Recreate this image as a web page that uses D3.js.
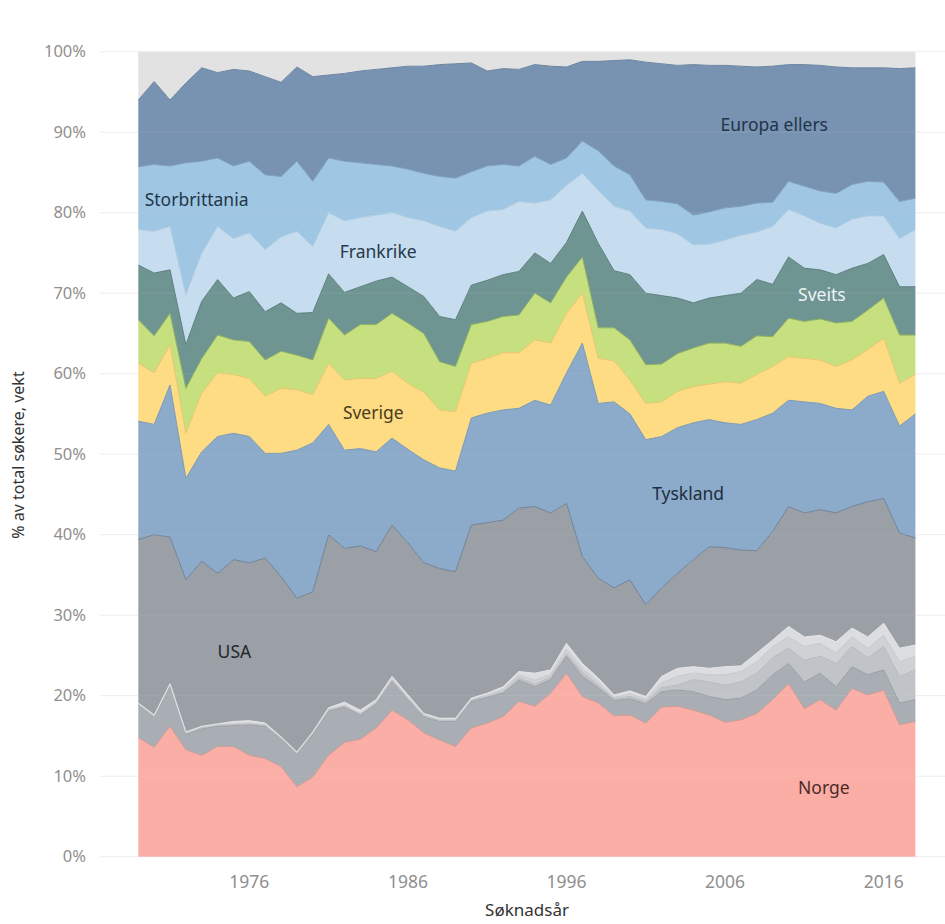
<!DOCTYPE html>
<html><head><meta charset="utf-8">
<script src="https://cdn.jsdelivr.net/npm/d3@7"></script>
<style>body{margin:0;background:#fff}svg{display:block}text{font-family:"Noto Sans","Open Sans",sans-serif}</style>
</head><body><svg id="c" width="945" height="924"></svg>
<script>
const years = [1969,1970,1971,1972,1973,1974,1975,1976,1977,1978,1979,1980,1981,1982,1983,1984,1985,1986,1987,1988,1989,1990,1991,1992,1993,1994,1995,1996,1997,1998,1999,2000,2001,2002,2003,2004,2005,2006,2007,2008,2009,2010,2011,2012,2013,2014,2015,2016,2017,2018];
const norge = [14.8,13.6,16.2,13.3,12.6,13.7,13.7,12.6,12.2,11.2, 8.7,9.9,12.6,14.2,14.6,16.0,18.2,17.0,15.4,14.5, 13.7,16.0,16.6,17.4,19.3,18.7,20.3,22.8,19.9,19.1, 17.5,17.6,16.6,18.6,18.7,18.2,17.6,16.7,17.0,17.8, 19.5,21.5,18.4,19.5,18.2,20.9,20.1,20.7,16.4,16.8];
const japan = [4.0,3.7,5.0,1.9,3.3,2.5,2.6,3.8,4.0,3.4, 4.0,5.3,5.5,4.4,3.0,3.0,3.6,2.5,2.0,2.3, 3.1,3.3,3.2,2.9,2.6,2.4,1.7,2.1,2.5,1.9, 1.9,2.0,2.4,1.9,2.0,2.3,2.3,2.8,2.7,2.9, 3.1,2.5,3.3,3.3,2.9,2.7,2.5,2.5,2.7,2.7];
const kina = [0.1,0.1,0.1,0.1,0.1,0.1,0.1,0.1,0.1,0.1, 0.1,0.1,0.1,0.1,0.1,0.1,0.1,0.1,0.1,0.1, 0.1,0.1,0.1,0.2,0.3,0.3,0.3,0.3,0.5,0.3, 0.2,0.3,0.3,0.5,0.6,1.5,1.8,1.8,2.0,2.1, 2.1,1.9,2.7,2.1,2.9,2.5,2.1,2.9,3.3,3.7];
const korea = [0.1,0.1,0.1,0.1,0.1,0.1,0.1,0.1,0.1,0.1, 0.1,0.1,0.1,0.1,0.1,0.1,0.2,0.2,0.1,0.1, 0.1,0.1,0.2,0.3,0.4,0.5,0.4,0.6,0.5,0.4, 0.2,0.3,0.3,0.6,1.1,0.8,0.9,1.3,1.3,1.4, 1.4,1.4,1.7,1.6,1.3,1.2,1.2,1.4,1.8,1.7];
const asiaEllers = [0.1,0.1,0.1,0.1,0.1,0.1,0.3,0.3,0.2,0.1, 0.1,0.1,0.2,0.4,0.4,0.3,0.3,0.3,0.2,0.2, 0.2,0.2,0.2,0.3,0.4,0.9,0.5,0.7,0.6,0.5, 0.3,0.4,0.3,0.8,1.0,0.8,0.8,1.0,0.7,1.1, 0.8,1.3,1.2,1.0,1.4,1.1,1.4,1.5,1.7,1.4];
const usa = [20.3,22.4,18.2,18.9,20.5,18.7,20.1,19.6,20.5,19.9, 19.1,17.4,21.5,19.1,20.4,18.4,18.8,18.9,18.7,18.6, 18.2,21.5,21.2,20.7,20.3,20.7,19.5,17.4,13.3,12.4, 13.3,13.8,11.4,11.0,11.8,13.3,15.1,14.8,14.4,12.7, 13.5,14.9,15.4,15.6,16.0,15.1,16.8,15.5,14.3,13.3];
const tyskland = [14.7,13.7,18.9,12.6,13.6,17.0,15.7,15.7,13.0,15.3, 18.4,18.5,13.7,12.2,12.1,12.4,10.8,11.6,12.8,12.5, 12.5,13.3,13.6,13.7,12.4,13.2,13.4,16.2,26.5,21.7, 23.1,20.6,20.5,18.8,18.1,17.0,15.8,15.5,15.6,16.3, 14.7,13.2,13.8,13.2,13.0,12.0,13.1,13.3,13.3,15.4];
const sverige = [7.2,6.4,5.0,5.6,7.3,7.9,7.3,7.2,7.1,8.1, 7.5,6.0,7.6,8.7,8.7,9.1,8.3,8.2,8.4,7.2, 7.4,6.8,6.8,7.1,6.9,7.5,7.7,7.4,6.2,5.6, 5.1,4.2,4.5,4.3,4.5,4.5,4.4,5.1,5.1,5.6, 5.8,5.4,5.4,5.4,5.2,6.2,5.8,6.6,5.3,4.9];
const danmark = [5.4,4.6,3.9,5.6,4.3,4.7,4.3,4.6,4.5,4.6, 4.3,4.3,5.6,5.6,6.7,6.7,7.2,7.5,7.3,6.0, 5.6,4.8,4.6,4.5,4.7,5.8,5.0,4.5,4.5,3.8, 4.1,5.0,4.8,4.7,4.7,4.8,5.1,4.8,4.6,4.8, 3.7,4.8,4.6,5.1,5.4,4.8,4.9,5.0,6.0,4.9];
const sveits = [6.8,7.8,5.4,5.4,7.1,6.9,5.2,6.2,6.0,6.0, 5.2,5.9,5.5,5.3,4.7,5.4,4.5,4.5,4.6,5.6, 5.8,4.9,5.1,5.2,5.4,5.0,4.9,4.3,5.7,10.5, 7.1,8.1,8.9,8.5,6.9,5.6,5.6,5.9,6.6,7.0, 6.5,7.6,6.6,6.1,6.0,6.6,5.8,5.4,6.0,6.0];
const frankrike = [4.4,5.2,5.4,6.2,6.0,6.6,7.4,7.3,7.7,8.2, 10.2,8.2,7.6,8.9,8.6,8.2,8.0,8.6,9.4,11.2, 11.0,8.4,8.6,8.1,8.7,6.2,7.9,7.1,4.7,6.6, 8.0,7.9,8.1,8.2,8.0,7.2,6.7,6.9,7.2,5.9, 7.2,5.9,6.5,5.8,5.8,6.1,5.9,4.8,6.0,7.1];
const storbrittania = [7.8,8.3,7.5,16.4,11.4,8.5,9.0,8.9,9.3,7.5, 8.7,8.1,6.8,7.4,6.8,6.3,5.8,6.0,5.9,6.2, 6.6,5.7,5.6,5.6,4.4,5.8,4.4,3.4,4.0,4.9, 5.0,4.5,3.5,3.5,3.7,3.7,4.0,4.0,3.6,3.6, 3.0,3.5,3.7,4.0,4.3,4.3,4.3,4.2,4.6,3.9];
const europaEllers = [8.3,10.3,8.2,9.9,11.6,10.6,12.0,11.2,12.2,11.7, 11.7,13.0,10.3,10.9,11.4,11.8,12.2,12.8,13.3,13.9, 14.2,13.5,11.8,11.9,12.0,11.4,12.2,11.3,9.9,11.1, 13.1,14.3,17.1,17.1,17.2,18.7,18.2,17.7,17.4,16.9, 16.9,14.5,15.1,15.6,15.7,14.5,14.1,14.2,16.5,16.2];
const ovrige = [6.0,3.7,6.0,3.9,2.0,2.6,2.2,2.4,3.1,3.8, 1.9,3.1,2.9,2.7,2.4,2.2,2.0,1.8,1.8,1.6, 1.5,1.4,2.4,2.1,2.2,1.6,1.8,1.9,1.2,1.2, 1.1,1.0,1.3,1.5,1.7,1.6,1.7,1.7,1.8,1.9, 1.8,1.6,1.6,1.7,1.9,2.0,2.0,2.0,2.1,2.0];

const seriesNames = ["Norge","Japan","Kina","Sør-Korea","Asia ellers","USA","Tyskland","Sverige","Danmark","Sveits","Frankrike","Storbrittania","Europa ellers","Øvrige"];
const seriesValues = [norge,japan,kina,korea,asiaEllers,usa,tyskland,sverige,danmark,sveits,frankrike,storbrittania,europaEllers,ovrige];
const colors = ["#faaea5","#a9aeb4","#c0c3c7","#cfd1d4","#dcdde0","#9b9fa6","#8caac9","#fddc84","#c7e07f","#6f9593","#c5ddef","#9fc6e3","#7893b1","#e2e2e2"];
const edgeColors = ["#cf9a94","#9a9fa6","#b6b9bd","#c6c8cb","#e4e5e7","#6f8398","#7a98b8","#e8c670","#8fb060","#5c7e7c","#b0cbe0","#7d9fbd","#6a84a0","#e2e2e2"];
const yTicks = [0,0.1,0.2,0.3,0.4,0.5,0.6,0.7,0.8,0.9,1];
const xTicks = [1976,1986,1996,2006,2016];
const labels = [
  {name:"Europa ellers", year:2009.1, share:0.909, anchor:"middle", color:"#24344a"},
  {name:"Storbrittania", year:1969.4, share:0.816, anchor:"start", color:"#22364a"},
  {name:"Frankrike", year:1981.7, share:0.751, anchor:"start", color:"#27384a"},
  {name:"Sveits", year:2012.1, share:0.698, anchor:"middle", color:"#eef3f3"},
  {name:"Sverige", year:1981.9, share:0.551, anchor:"start", color:"#4b3c1c"},
  {name:"Tyskland", year:2001.4, share:0.451, anchor:"start", color:"#1f2d40"},
  {name:"USA", year:1974.0, share:0.255, anchor:"start", color:"#25272b"},
  {name:"Norge", year:2010.6, share:0.085, anchor:"start", color:"#4d2c2a"}
];

const table = years.map((yr,i)=>{const o={year:yr}; seriesNames.forEach((n,k)=>o[n]=seriesValues[k][i]); return o;});
const stack = d3.stack().keys(seriesNames).offset(d3.stackOffsetExpand);
const layers = stack(table);

const svg = d3.select("#c");
const x = d3.scaleLinear().domain([1969,2018]).range([138.3,915.4]);
const y = d3.scaleLinear().domain([0,1]).range([856.7,51.7]);

svg.append("g").selectAll("line").data(yTicks).join("line")
  .attr("x1",100).attr("x2",945).attr("y1",d=>y(d)).attr("y2",d=>y(d))
  .attr("stroke","#ededed").attr("stroke-width",1);

const area = d3.area().x(d=>x(d.data.year)).y0(d=>y(d[0])).y1(d=>y(d[1]));
const topLine = d3.line().x(d=>x(d.data.year)).y(d=>y(d[1]));
svg.append("g").selectAll("path").data(layers).join("path")
  .attr("d",area).attr("fill",(d,i)=>colors[i]);
svg.append("g").selectAll("path").data(layers.slice(0,layers.length-1)).join("path")
  .attr("d",topLine).attr("fill","none").attr("stroke",(d,i)=>edgeColors[i]).attr("stroke-width",1);

svg.append("g").selectAll("line").data(yTicks.slice(1,10)).join("line")
  .attr("x1",x(1969)).attr("x2",x(2018)).attr("y1",d=>y(d)).attr("y2",d=>y(d))
  .attr("stroke","#ffffff").attr("stroke-opacity",0.08).attr("stroke-width",1);

svg.append("g").selectAll("text").data(yTicks).join("text")
  .attr("x",86).attr("y",d=>y(d)).attr("dy","0.35em").attr("text-anchor","end")
  .attr("font-size",16.5).attr("fill","#8f8f8f").text(d=>d3.format(".0%")(d));
svg.append("g").selectAll("text").data(xTicks).join("text")
  .attr("x",d=>x(d)).attr("y",888).attr("text-anchor","middle")
  .attr("font-size",17.5).attr("fill","#8f8f8f").text(d=>d);

svg.append("text").attr("x",527).attr("y",916).attr("text-anchor","middle")
  .attr("font-size",17).attr("fill","#333").text("Søknadsår");
svg.append("text").attr("transform","translate(24,455) rotate(-90)").attr("text-anchor","middle")
  .attr("font-size",16).attr("fill","#333").text("% av total søkere, vekt");

svg.append("g").selectAll("text").data(labels).join("text")
  .attr("x",d=>x(d.year)).attr("y",d=>y(d.share)).attr("dy","0.35em")
  .attr("text-anchor",d=>d.anchor).attr("font-size",17.5).attr("fill",d=>d.color).text(d=>d.name);
</script></body></html>
